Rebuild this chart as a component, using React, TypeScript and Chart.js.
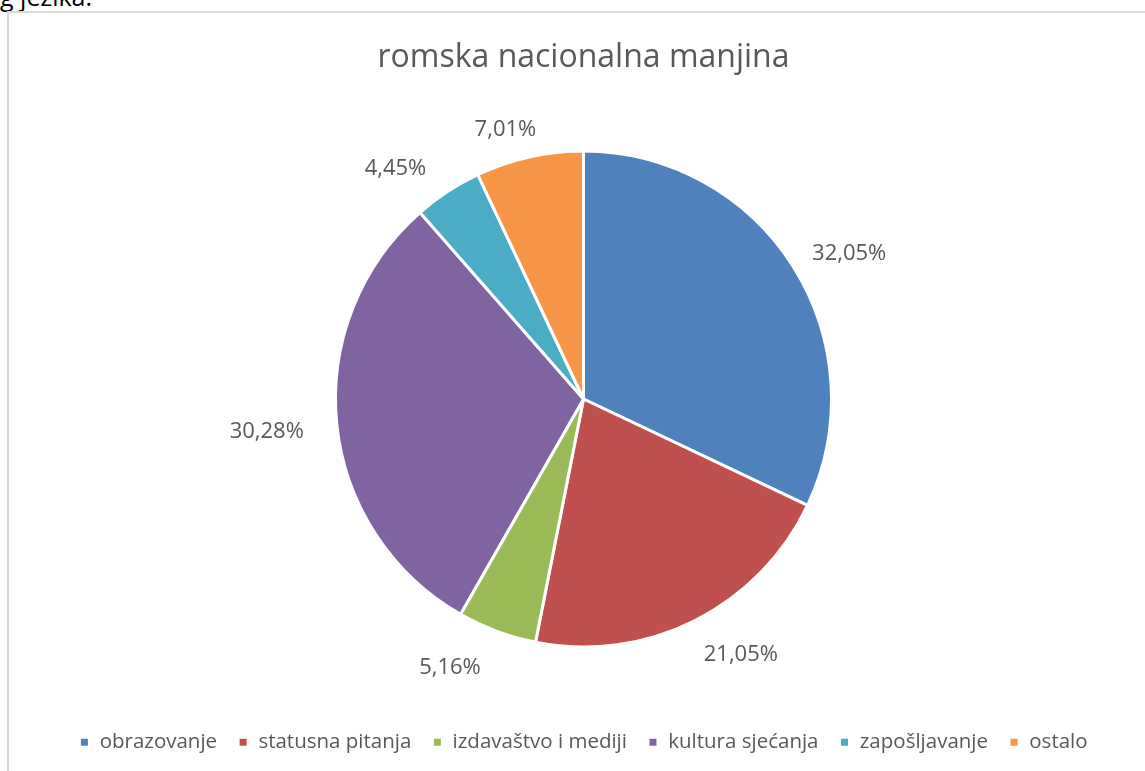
import React, { useEffect, useRef } from "react";
import { Chart, registerables } from "chart.js";

Chart.register(...registerables);

const chartTitle = "romska nacionalna manjina";
const categories = [
  "obrazovanje",
  "statusna pitanja",
  "izdavaštvo i mediji",
  "kultura sjećanja",
  "zapošljavanje",
  "ostalo",
];
const shares = [32.05, 21.05, 5.16, 30.28, 4.45, 7.01];
const percentLabels = ["32,05%", "21,05%", "5,16%", "30,28%", "4,45%", "7,01%"];
const colors = ["#4F81BD", "#C0504D", "#9BBB59", "#8064A2", "#4BACC6", "#F79646"];

const FONT = "'Open Sans', sans-serif";
const TEXT_COLOR = "#595959";

const outsideLabels = {
  id: "outsideLabels",
  afterDatasetsDraw(chart: any) {
    const ctx = chart.ctx as CanvasRenderingContext2D;
    const meta = chart.getDatasetMeta(0);
    ctx.save();
    ctx.font = `22px ${FONT}`;
    ctx.fillStyle = TEXT_COLOR;
    ctx.textAlign = "center";
    ctx.textBaseline = "middle";
    meta.data.forEach((arc: any, i: number) => {
      const p = arc.getProps(["x", "y", "startAngle", "endAngle", "outerRadius"], true);
      const mid = (p.startAngle + p.endAngle) / 2;
      const cos = Math.cos(mid);
      const sin = Math.sin(mid);
      const text = percentLabels[i];
      const hw = ctx.measureText(text).width / 2 + (cos < -0.3 ? 7 : -3);
      const dx = p.outerRadius + 26;
      const dy = p.outerRadius + 33;
      const x = p.x + dx * cos + hw * Math.max(-1, Math.min(1, cos * 3));
      const y = p.y + dy * sin + 5;
      ctx.fillText(text, x, y);
    });
    ctx.restore();
  },
};

export default function App() {
  const ref = useRef<HTMLCanvasElement>(null);

  useEffect(() => {
    document.body.style.margin = "0";
    if (!ref.current) return;
    Chart.defaults.font.family = FONT;
    const chart = new Chart(ref.current, {
      type: "pie",
      data: {
        labels: categories,
        datasets: [
          {
            data: shares,
            backgroundColor: colors,
            borderColor: "#ffffff",
            borderWidth: 3,
            radius: 248,
          } as any,
        ],
      },
      options: {
        responsive: false,
        animation: false,
        layout: { padding: { left: 22, right: 0, top: 0, bottom: 8.5 } },
        plugins: {
          title: {
            display: true,
            text: chartTitle,
            color: TEXT_COLOR,
            font: { size: 32, weight: "normal", family: FONT },
            padding: { top: 39, bottom: 9.6 },
          },
          legend: {
            display: true,
            position: "bottom",
            labels: {
              boxWidth: 10,
              boxHeight: 10,
              padding: 21,
              color: TEXT_COLOR,
              font: { size: 20.5, family: FONT },
            },
          },
          tooltip: { enabled: false },
        },
      },
      plugins: [outsideLabels],
    });
    return () => chart.destroy();
  }, []);

  return (
    <div
      style={{
        position: "fixed",
        left: 0,
        top: 0,
        width: 1145,
        height: 771,
        overflow: "hidden",
        background: "#ffffff",
      }}
    >
      <div
        style={{
          position: "absolute",
          left: 0,
          top: -16,
          font: `25px ${FONT}`,
          lineHeight: "24px",
          color: "#000",
          whiteSpace: "nowrap",
        }}
      >
        g jezika.
      </div>
      <div
        style={{
          position: "absolute",
          left: 7,
          top: 11,
          width: 1160,
          height: 800,
          border: "2px solid #d9d9d9",
          boxSizing: "border-box",
        }}
      />
      <canvas
        ref={ref}
        width={1145}
        height={771}
        style={{ position: "absolute", left: 0, top: 0 }}
      />
    </div>
  );
}
